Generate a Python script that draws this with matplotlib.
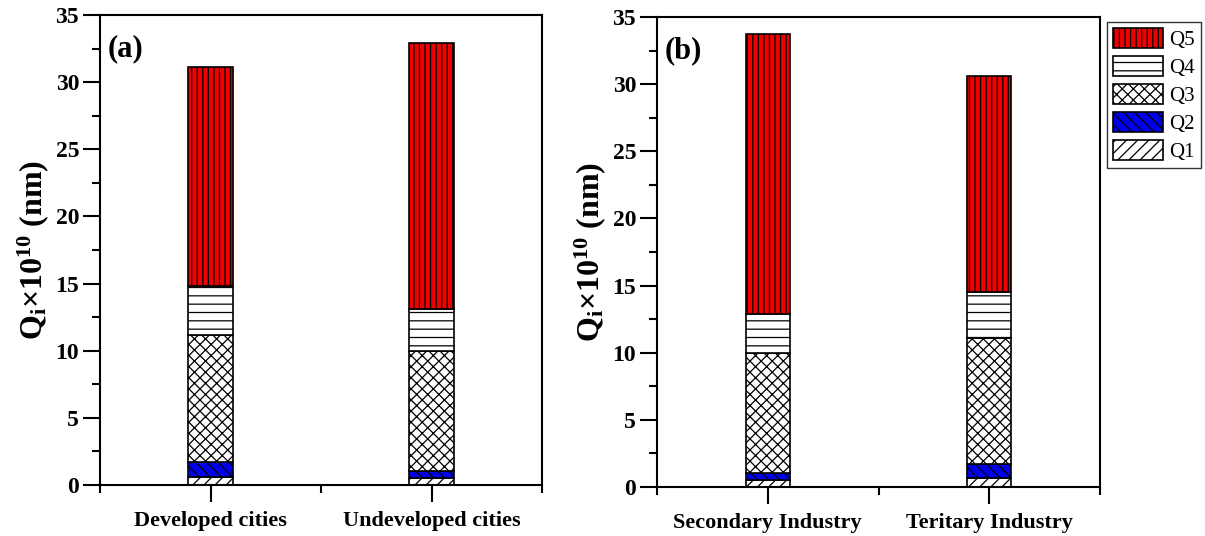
import numpy as np
import matplotlib.pyplot as plt
from matplotlib.ticker import MultipleLocator, FixedLocator

plt.rcParams['font.family'] = ['Liberation Serif', 'DejaVu Serif']
plt.rcParams['mathtext.fontset'] = 'custom'
plt.rcParams['mathtext.rm'] = 'Liberation Serif'
plt.rcParams['mathtext.bf'] = 'Liberation Serif:bold'
plt.rcParams['mathtext.it'] = 'Liberation Serif:bold'
plt.rcParams['hatch.linewidth'] = 0.9

# datos (segmentos apilados, no acumulados)
cats_a = ['Developed cities', 'Undeveloped cities']
cats_b = ['Secondary Industry', 'Teritary Industry']
series = ['Q1', 'Q2', 'Q3', 'Q4', 'Q5']

vals_a = {
    'Q1': [0.6, 0.55],
    'Q2': [1.1, 0.5],
    'Q3': [9.5, 8.95],
    'Q4': [3.6, 3.1],
    'Q5': [16.3, 19.8],
}
vals_b = {
    'Q1': [0.5, 0.65],
    'Q2': [0.55, 1.05],
    'Q3': [8.95, 9.4],
    'Q4': [2.9, 3.4],
    'Q5': [20.8, 16.1],
}

colores = {'Q1': 'white', 'Q2': '#0000ee', 'Q3': 'white', 'Q4': 'white', 'Q5': '#ee0000'}
tramas = {'Q1': '///', 'Q2': '\\\\\\', 'Q3': 'xxx', 'Q4': '--', 'Q5': '|||'}


def graficar(ax, cats, vals, letra):
    x = np.arange(1, len(cats) + 1)
    base = np.zeros(len(cats))
    handles = []
    for s in series:
        h = ax.bar(x, vals[s], 0.2, bottom=base, color=colores[s], edgecolor='black',
                   hatch=tramas[s], linewidth=1.2, label=s)
        handles.append(h)
        base = base + np.array(vals[s])
    ax.set_xlim(0.5, 2.5)
    ax.set_ylim(0, 35)
    ax.yaxis.set_major_locator(MultipleLocator(5))
    ax.yaxis.set_minor_locator(MultipleLocator(2.5))
    ax.set_xticks(x)
    ax.set_xticklabels(cats, fontsize=16, fontweight='bold')
    ax.xaxis.set_minor_locator(FixedLocator([0.5, 1.5, 2.5]))
    ax.tick_params(axis='y', which='major', direction='out', length=12, width=1.5, labelsize=17, pad=3)
    ax.tick_params(axis='y', which='minor', direction='out', length=6, width=1.5)
    ax.tick_params(axis='x', which='major', direction='out', length=12, width=1.5, pad=7)
    ax.tick_params(axis='x', which='minor', direction='out', length=6, width=1.5)
    for lab in ax.get_yticklabels():
        lab.set_fontweight('bold')
    for sp in ax.spines.values():
        sp.set_linewidth(1.5)
    ax.set_ylabel(r'$\mathbf{Q_i}$$\mathbf{\times10^{10}}$ (nm)', fontsize=23, fontweight='bold', labelpad=3)
    ax.text(0.018, 0.96, letra, transform=ax.transAxes, fontsize=22, fontweight='bold', va='top', ha='left')
    return handles


fig = plt.figure(figsize=(12.05, 5.36), dpi=100)
ax1 = fig.add_axes([0.083, 0.0951, 0.3668, 0.877])
ax2 = fig.add_axes([0.5452, 0.0914, 0.3677, 0.877])

graficar(ax1, cats_a, vals_a, '(a)')
handles = graficar(ax2, cats_b, vals_b, '(b)')

leg = fig.legend(handles[::-1], series[::-1], loc='upper left', bbox_to_anchor=(1107 / 1205, 1 - 22 / 536),
                 fontsize=15, frameon=True, fancybox=False, edgecolor='black', handlelength=2.4,
                 handleheight=1.05, labelspacing=0.3, handletextpad=0.3, borderpad=0.3, borderaxespad=0)
leg.get_frame().set_linewidth(1.0)

fig.savefig('out.png', dpi=100)
